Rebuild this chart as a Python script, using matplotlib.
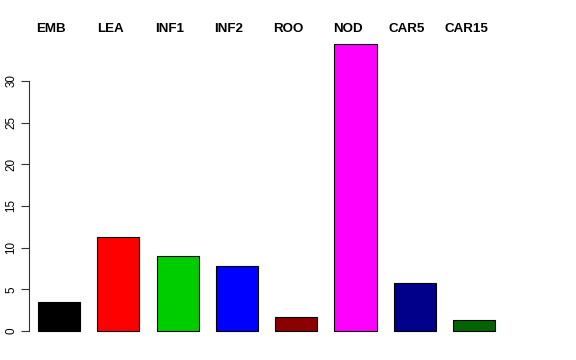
import matplotlib
matplotlib.use("Agg")
import matplotlib.pyplot as plt
import numpy as np

categories = ["EMB", "LEA", "INF1", "INF2", "ROO", "NOD", "CAR5", "CAR15"]
values = [3.44, 11.28, 9.0, 7.84, 1.70, 34.5, 5.74, 1.32]
colors = ["#000000", "#FF0000", "#00CD00", "#0000FF", "#8B0000", "#FF00FF", "#00008B", "#006400"]
yticks = [0, 5, 10, 15, 20, 25, 30]

plt.rcParams["font.family"] = ["Liberation Sans", "DejaVu Sans"]

fig = plt.figure(figsize=(5.76, 3.6), dpi=100)
ax = fig.add_axes([29 / 576, 18 / 360, 483 / 576, 310 / 360])

x = np.arange(len(categories))
ax.bar(x, values, width=0.71, color=colors, edgecolor="black", linewidth=0.8)

ax.set_xlim(-0.506, 7.64)
ax.set_ylim(-1.32, 35.88)

for s in ["top", "right", "bottom"]:
    ax.spines[s].set_visible(False)
ax.spines["left"].set_bounds(0, 30)
ax.spines["left"].set_linewidth(0.8)
ax.spines["left"].set_color("#333333")

ax.set_xticks([])
ax.set_yticks(yticks)
ax.set_yticklabels([str(t) for t in yticks], rotation=90, va="center", fontsize=8.4)
ax.tick_params(axis="y", length=5.8, width=0.8, pad=2.5, color="#333333")

for xi, lab in zip(x, categories):
    ax.text(xi - 0.135, 36.2, lab, ha="center", va="center", fontsize=9.6,
            fontweight="bold", clip_on=False)

fig.savefig("out.png", dpi=100)
